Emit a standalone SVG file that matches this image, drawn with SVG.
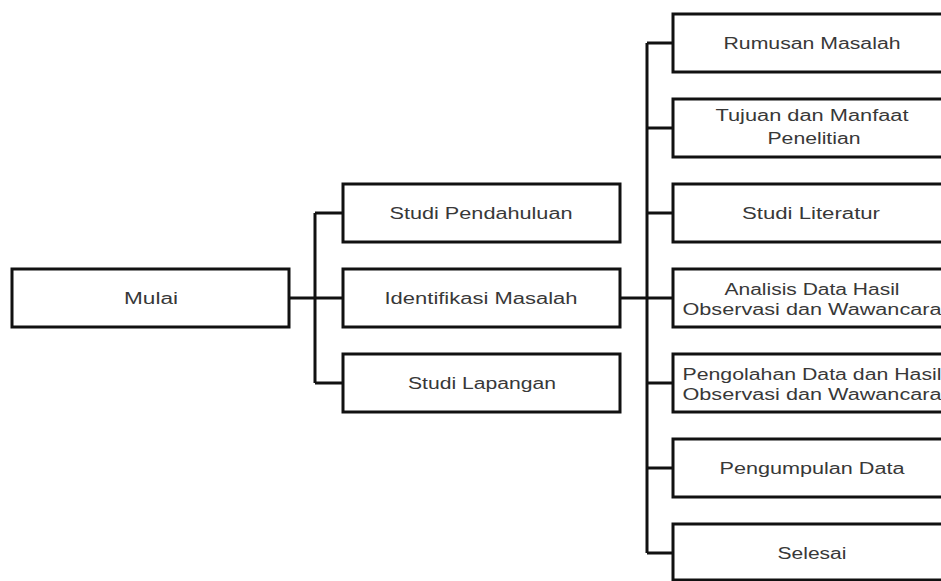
<svg xmlns="http://www.w3.org/2000/svg" width="941" height="581" viewBox="0 0 941 581">
<style>
.box{fill:#fff;stroke:#111;stroke-width:3}
.lbl{font-family:"Liberation Sans","DejaVu Sans",sans-serif;font-size:16px;fill:#383838;text-anchor:middle}
.con{fill:none;stroke:#111;stroke-width:3}
</style>
<rect width="941" height="581" fill="#fff"/>
<g id="connectors">
<path class="con" d="M289 298H315M315 213V383M315 213H343M315 298H343M315 383H343"/>
<path class="con" d="M620 298H647M647 43V553M647 43H673M647 128H673M647 213H673M647 298H673M647 383H673M647 468H673M647 553H673"/>
</g>
<g id="mulai"><rect class="box" x="12" y="269" width="277" height="58"/><text class="lbl" x="151" y="304" textLength="54" lengthAdjust="spacingAndGlyphs">Mulai</text></g>
<g id="studi-pendahuluan"><rect class="box" x="343" y="184" width="277" height="58"/><text class="lbl" x="481" y="219" textLength="183" lengthAdjust="spacingAndGlyphs">Studi Pendahuluan</text></g>
<g id="identifikasi-masalah"><rect class="box" x="343" y="269" width="277" height="58"/><text class="lbl" x="481" y="304" textLength="193" lengthAdjust="spacingAndGlyphs">Identifikasi Masalah</text></g>
<g id="studi-lapangan"><rect class="box" x="343" y="354" width="277" height="58"/><text class="lbl" x="482" y="389" textLength="148" lengthAdjust="spacingAndGlyphs">Studi Lapangan</text></g>
<g id="rumusan-masalah"><rect class="box" x="673" y="14" width="278" height="58"/><text class="lbl" x="812" y="49" textLength="177" lengthAdjust="spacingAndGlyphs">Rumusan Masalah</text></g>
<g id="tujuan-manfaat"><rect class="box" x="673" y="99" width="278" height="58"/><text class="lbl" x="812" y="121" textLength="193" lengthAdjust="spacingAndGlyphs">Tujuan dan Manfaat</text><text class="lbl" x="814" y="144" textLength="93" lengthAdjust="spacingAndGlyphs">Penelitian</text></g>
<g id="studi-literatur"><rect class="box" x="673" y="184" width="278" height="58"/><text class="lbl" x="811" y="219" textLength="138" lengthAdjust="spacingAndGlyphs">Studi Literatur</text></g>
<g id="analisis-data"><rect class="box" x="673" y="269" width="278" height="58"/><text class="lbl" x="812" y="295" textLength="175" lengthAdjust="spacingAndGlyphs">Analisis Data Hasil</text><text class="lbl" x="812" y="315" textLength="259" lengthAdjust="spacingAndGlyphs">Observasi dan Wawancara</text></g>
<g id="pengolahan-data"><rect class="box" x="673" y="354" width="278" height="58"/><text class="lbl" x="812" y="380" textLength="259" lengthAdjust="spacingAndGlyphs">Pengolahan Data dan Hasil</text><text class="lbl" x="812" y="400" textLength="259" lengthAdjust="spacingAndGlyphs">Observasi dan Wawancara</text></g>
<g id="pengumpulan-data"><rect class="box" x="673" y="439" width="278" height="58"/><text class="lbl" x="812" y="474" textLength="185" lengthAdjust="spacingAndGlyphs">Pengumpulan Data</text></g>
<g id="selesai"><rect class="box" x="673" y="524" width="278" height="56"/><text class="lbl" x="812" y="559" textLength="69" lengthAdjust="spacingAndGlyphs">Selesai</text></g>
</svg>
